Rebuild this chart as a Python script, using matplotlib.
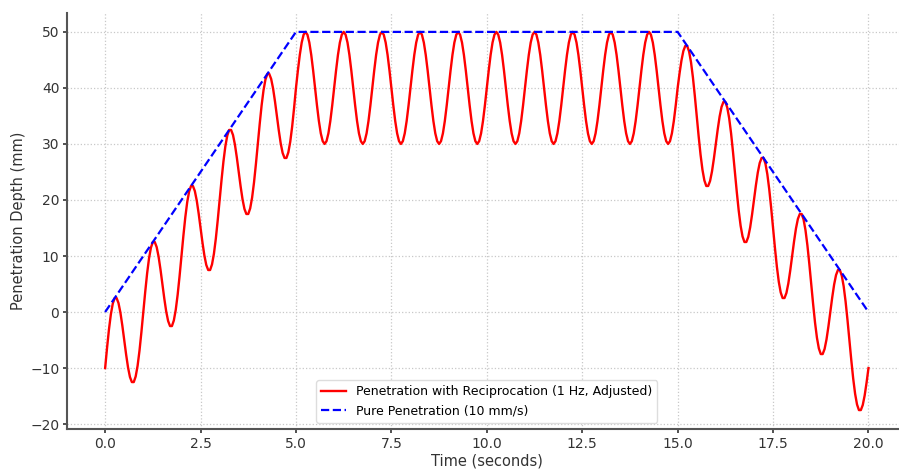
import numpy as np
import matplotlib
matplotlib.use('Agg')
import matplotlib.pyplot as plt

# pure penetration path (breakpoints)
pure_t = [0, 5, 15, 20]
pure_depth = [0, 50, 50, 0]

# penetration with reciprocation, read every 0.05 s (one row per second)
recip_rows = [
    [-10, -6.4, -3.1, -0.4, 1.5, 2.5, 2.5, 1.6, -0.1, -2.4, -5, -7.6, -9.9, -11.6, -12.5, -12.5, -11.5, -9.6, -6.9, -3.6],
    [0, 3.6, 6.9, 9.6, 11.5, 12.5, 12.5, 11.6, 9.9, 7.6, 5, 2.4, 0.1, -1.6, -2.5, -2.5, -1.5, 0.4, 3.1, 6.4],
    [10, 13.6, 16.9, 19.6, 21.5, 22.5, 22.5, 21.6, 19.9, 17.6, 15, 12.4, 10.1, 8.4, 7.5, 7.5, 8.5, 10.4, 13.1, 16.4],
    [20, 23.6, 26.9, 29.6, 31.5, 32.5, 32.5, 31.6, 29.9, 27.6, 25, 22.4, 20.1, 18.4, 17.5, 17.5, 18.5, 20.4, 23.1, 26.4],
    [30, 33.6, 36.9, 39.6, 41.5, 42.5, 42.5, 41.6, 39.9, 37.6, 35, 32.4, 30.1, 28.4, 27.5, 27.5, 28.5, 30.4, 33.1, 36.4],
    [40, 43.1, 45.9, 48.1, 49.5, 50, 49.5, 48.1, 45.9, 43.1, 40, 36.9, 34.1, 31.9, 30.5, 30, 30.5, 31.9, 34.1, 36.9],
    [40, 43.1, 45.9, 48.1, 49.5, 50, 49.5, 48.1, 45.9, 43.1, 40, 36.9, 34.1, 31.9, 30.5, 30, 30.5, 31.9, 34.1, 36.9],
    [40, 43.1, 45.9, 48.1, 49.5, 50, 49.5, 48.1, 45.9, 43.1, 40, 36.9, 34.1, 31.9, 30.5, 30, 30.5, 31.9, 34.1, 36.9],
    [40, 43.1, 45.9, 48.1, 49.5, 50, 49.5, 48.1, 45.9, 43.1, 40, 36.9, 34.1, 31.9, 30.5, 30, 30.5, 31.9, 34.1, 36.9],
    [40, 43.1, 45.9, 48.1, 49.5, 50, 49.5, 48.1, 45.9, 43.1, 40, 36.9, 34.1, 31.9, 30.5, 30, 30.5, 31.9, 34.1, 36.9],
    [40, 43.1, 45.9, 48.1, 49.5, 50, 49.5, 48.1, 45.9, 43.1, 40, 36.9, 34.1, 31.9, 30.5, 30, 30.5, 31.9, 34.1, 36.9],
    [40, 43.1, 45.9, 48.1, 49.5, 50, 49.5, 48.1, 45.9, 43.1, 40, 36.9, 34.1, 31.9, 30.5, 30, 30.5, 31.9, 34.1, 36.9],
    [40, 43.1, 45.9, 48.1, 49.5, 50, 49.5, 48.1, 45.9, 43.1, 40, 36.9, 34.1, 31.9, 30.5, 30, 30.5, 31.9, 34.1, 36.9],
    [40, 43.1, 45.9, 48.1, 49.5, 50, 49.5, 48.1, 45.9, 43.1, 40, 36.9, 34.1, 31.9, 30.5, 30, 30.5, 31.9, 34.1, 36.9],
    [40, 43.1, 45.9, 48.1, 49.5, 50, 49.5, 48.1, 45.9, 43.1, 40, 36.9, 34.1, 31.9, 30.5, 30, 30.5, 31.9, 34.1, 36.9],
    [40, 42.6, 44.9, 46.6, 47.5, 47.5, 46.5, 44.6, 41.9, 38.6, 35, 31.4, 28.1, 25.4, 23.5, 22.5, 22.5, 23.4, 25.1, 27.4],
    [30, 32.6, 34.9, 36.6, 37.5, 37.5, 36.5, 34.6, 31.9, 28.6, 25, 21.4, 18.1, 15.4, 13.5, 12.5, 12.5, 13.4, 15.1, 17.4],
    [20, 22.6, 24.9, 26.6, 27.5, 27.5, 26.5, 24.6, 21.9, 18.6, 15, 11.4, 8.1, 5.4, 3.5, 2.5, 2.5, 3.4, 5.1, 7.4],
    [10, 12.6, 14.9, 16.6, 17.5, 17.5, 16.5, 14.6, 11.9, 8.6, 5, 1.4, -1.9, -4.6, -6.5, -7.5, -7.5, -6.6, -4.9, -2.6],
    [0, 2.6, 4.9, 6.6, 7.5, 7.5, 6.5, 4.6, 1.9, -1.4, -5, -8.6, -11.9, -14.6, -16.5, -17.5, -17.5, -16.6, -14.9, -12.6],
]
recip_end = -10  # value at t = 20 s

recip_depth = [v for row in recip_rows for v in row] + [recip_end]
recip_t = np.linspace(0, 20, len(recip_depth))

xticks = [0, 2.5, 5, 7.5, 10, 12.5, 15, 17.5, 20]
yticks = [-20, -10, 0, 10, 20, 30, 40, 50]

# figure
fig = plt.figure(figsize=(8.99, 4.69), dpi=100)
ax = fig.add_axes([0.0745, 0.0853, 0.934, 0.887])

ax.plot(recip_t, recip_depth, color='red', lw=1.7,
        label='Penetration with Reciprocation (1 Hz, Adjusted)')
ax.plot(pure_t, pure_depth, color='blue', lw=1.6, ls='--',
        label='Pure Penetration (10 mm/s)')

ax.set_xticks(xticks)
ax.set_yticks(yticks)
ax.grid(True, ls=':', color='#c8c8c8', lw=0.9)
ax.set_axisbelow(True)

for s in ['top', 'right']:
    ax.spines[s].set_visible(False)
for s in ['left', 'bottom']:
    ax.spines[s].set_color('#555555')
    ax.spines[s].set_linewidth(1.5)
ax.tick_params(colors='#333333', labelsize=10, width=1.2, length=3, pad=2.5)

ax.set_xlabel('Time (seconds)', fontsize=10.5, color='#333333', labelpad=2)
ax.set_ylabel('Penetration Depth (mm)', fontsize=10.5, color='#333333', labelpad=3)

ax.legend(loc='lower center', bbox_to_anchor=(0.5, 0.0), fontsize=9,
          framealpha=1, edgecolor='#dddddd')

fig.savefig('out.png', dpi=100)
